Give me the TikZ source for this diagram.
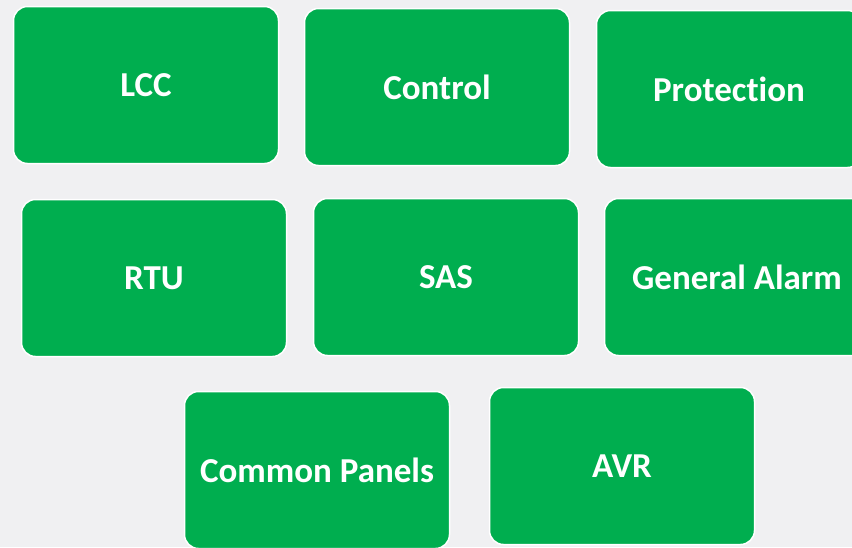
\documentclass[tikz,border=0pt]{standalone}
\usepackage{fontspec}
\usepackage{xcolor}
\setmainfont{Carlito}[Ligatures=NoCommon]
\definecolor{boxgreen}{HTML}{00AE4F}
\definecolor{paper}{HTML}{F0F0F2}

\tikzset{
    panel/.style={draw=white, line width=1.5pt, fill=boxgreen, rounded corners=14pt,
        minimum width=265pt, minimum height=157pt, inner sep=0pt,
        text=white, font=\fontsize{35}{42}\selectfont\bfseries}
}

\begin{document}
\begin{tikzpicture}[x=1pt, y=-1pt]
    \useasboundingbox (0,0) rectangle (852,547);
    \clip (0,0) rectangle (852,547);
    \fill[paper] (0,0) rectangle (852,547);

    % top row
    \node[panel] (lcc) at (146,85) {LCC};
    \node[panel] (control) at (437,87) {Control};
    \node[panel] (protection) at (729,89) {Protection};

    % middle row
    \node[panel] (rtu) at (154,278) {RTU};
    \node[panel] (sas) at (446,277) {SAS};
    \node[panel] (alarm) at (737,277) {General Alarm};

    % bottom row
    \node[panel] (common) at (317,470) {Common Panels};
    \node[panel] (avr) at (622,466) {AVR};
\end{tikzpicture}
\end{document}
